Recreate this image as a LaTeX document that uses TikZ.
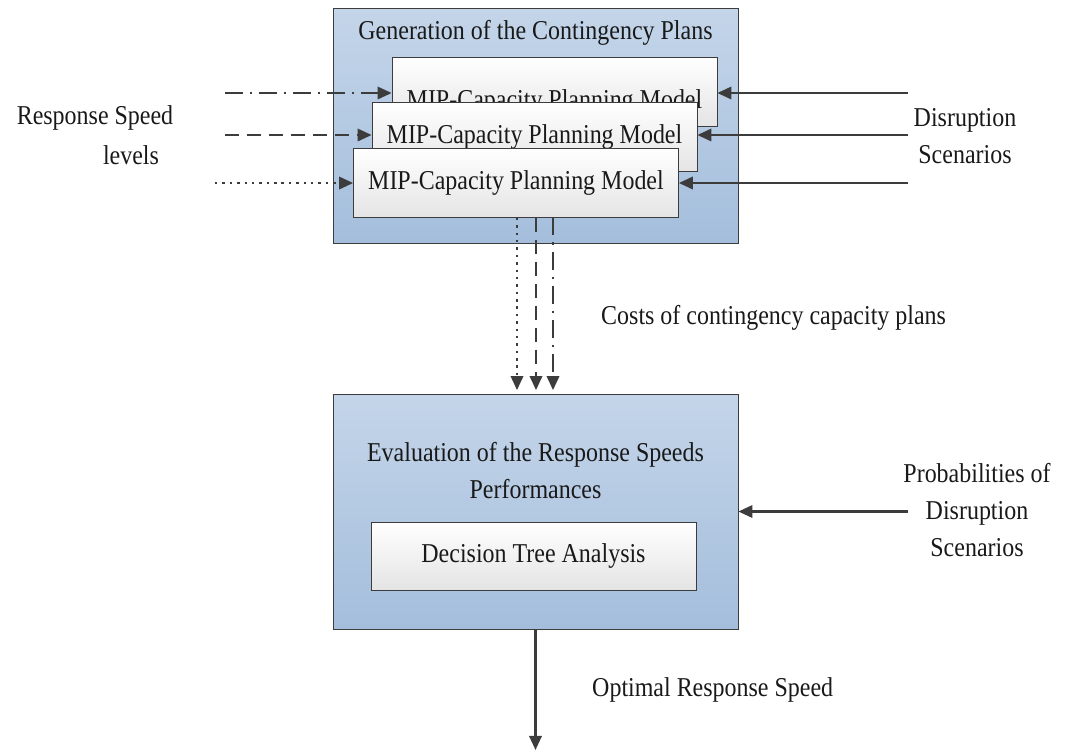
\documentclass[tikz,border=0pt]{standalone}
\usepackage{fontspec}
\setmainfont[FakeStretch=0.88]{Liberation Serif}
\usetikzlibrary{arrows.meta,positioning}
\definecolor{lineg}{RGB}{60,60,60}
\definecolor{bluetop}{RGB}{196,213,233}
\definecolor{bluebot}{RGB}{164,190,220}
\definecolor{greybot}{RGB}{228,228,228}
\tikzset{
	outer/.style={
		rectangle,
		draw=lineg,
		top color=bluetop,
		bottom color=bluebot,
		minimum width=8.1cm,
		minimum height=4.7cm
	},
	inner/.style={
		rectangle,
		draw=lineg,
		top color=white,
		bottom color=greybot,
		minimum width=6.5cm,
		minimum height=1.38cm
	}
}

\begin{document}
\begin{tikzpicture}[font=\fontsize{15.5}{21}\selectfont, text=black!90]
		\tikzstyle{connect}=[line width=1.4pt, draw=lineg, -{Triangle[length=8pt,width=7pt]}]
		\tikzstyle{dashdot}=[dash pattern=on 10pt off 4pt on 1.4pt off 4pt]
		\tikzstyle{longdash}=[dash pattern=on 8pt off 4.5pt]
		\tikzstyle{dots}=[dash pattern=on 1.4pt off 2.8pt]
		\useasboundingbox (0,0) rectangle (21.56,-15.06);
		
		% generation block
		\node[outer] (gen) at (10.71,-2.51) {};
		\node (gentitle) at (10.71,-0.65) {Generation of the Contingency Plans};
		\node[inner] (mipa) at (11.09,-1.83) {};
		\node (mipatext) at ([yshift=-0.2cm]mipa.center) {MIP-Capacity Planning Model};
		\node[inner] (mipb) at (10.69,-2.74) {MIP-Capacity Planning Model};
		\node[inner] (mipc) at (10.32,-3.66) {MIP-Capacity Planning Model};
		
		% evaluation block
		\node[outer] (eval) at (10.71,-10.23) {};
		\node[align=center] (evaltitle) at (10.71,-9.41) {Evaluation of the Response Speeds\\Performances};
		\node[inner, minimum height=1.36cm] (dta) at (10.67,-11.12) {Decision Tree Analysis};
		
		% labels
		\node (rs1) at (1.9,-2.36) {Response Speed};
		\node (rs2) at (2.62,-3.1) {levels};
		\node[align=center] (ds) at (19.3,-2.73) {Disruption\\Scenarios};
		\node[align=center] (pds) at (19.54,-10.2) {Probabilities of\\Disruption\\Scenarios};
		\node[anchor=west] (costs) at (11.9,-6.36) {Costs of contingency capacity plans};
		\node[anchor=west] (opt) at (11.72,-13.8) {Optimal Response Speed};
		
		\coordinate (ina) at (4.5,-1.86);
		\coordinate (inb) at (4.5,-2.7);
		\coordinate (inc) at (4.3,-3.66);
		\coordinate (dsa) at (18.16,-1.86);
		\coordinate (dsb) at (18.16,-2.7);
		\coordinate (dsc) at (18.16,-3.66);
		\coordinate (pin) at (18.16,-10.23);
		\coordinate (out) at (10.71,-15.0);
		
		\path
		(ina) edge [connect, dashdot] (mipa.west |- ina)
		(inb) edge [connect, longdash] (mipb.west |- inb)
		(inc) edge [connect, dots] (mipc.west)
		(dsa) edge [connect] (mipa.east |- dsa)
		(dsb) edge [connect] (mipb.east |- dsb)
		(dsc) edge [connect] (mipc.east)
		(pin) edge [connect] (eval.east)
		(eval.south) edge [connect] (out)
		;
		
		\path[shorten >=2pt]
		(mipc.south -| 10.34,0) edge [connect, dots] (eval.north -| 10.34,0)
		(mipc.south -| 10.72,0) edge [connect, longdash] (eval.north -| 10.72,0)
		(mipc.south -| 11.06,0) edge [connect, dashdot] (eval.north -| 11.06,0)
		;
		
\end{tikzpicture}
\end{document}
